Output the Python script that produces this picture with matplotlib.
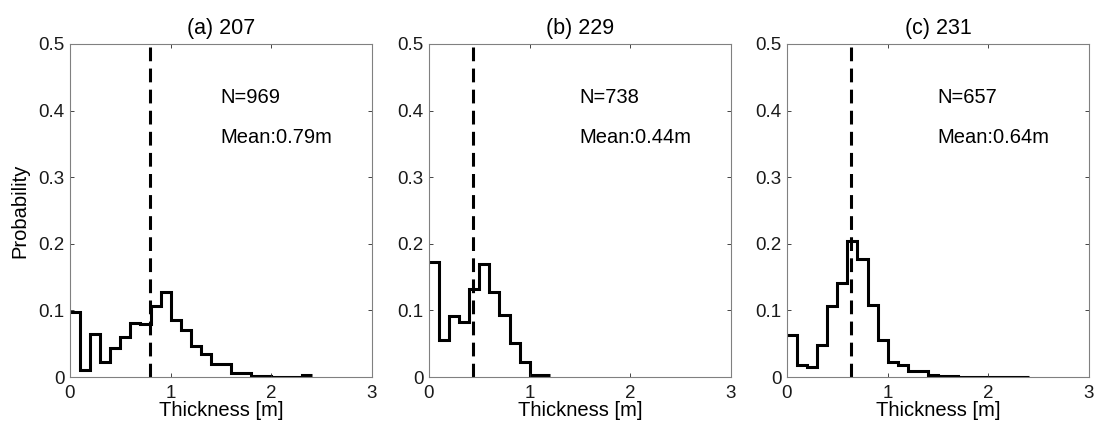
import numpy as np
import matplotlib
matplotlib.use("Agg")
import matplotlib.pyplot as plt

plt.rcParams['font.family'] = ['Liberation Sans', 'DejaVu Sans']

# bin edges: 0.1 m wide
titles = ['(a) 207', '(b) 229', '(c) 231']
counts_n = [969, 738, 657]
means = [0.79, 0.44, 0.64]

prob_a = [0.098, 0.010, 0.065, 0.023, 0.044, 0.060, 0.081, 0.079, 0.106, 0.128,
          0.085, 0.071, 0.047, 0.034, 0.020, 0.019, 0.0065, 0.0065, 0.0015, 0.0015,
          0.0005, 0.0005, 0.0005, 0.003]
prob_b = [0.172, 0.056, 0.092, 0.082, 0.132, 0.170, 0.127, 0.0935, 0.051, 0.022,
          0.0025, 0.0025]
prob_c = [0.0635, 0.0185, 0.015, 0.0485, 0.107, 0.141, 0.2045, 0.1775, 0.1085, 0.056,
          0.022, 0.0185, 0.0095, 0.0095, 0.003, 0.002, 0.0008, 0.0005, 0.0005, 0.0005,
          0.0005, 0.0005, 0.0005, 0.0005]
probs = [prob_a, prob_b, prob_c]

fig = plt.figure(figsize=(11, 4.36), dpi=100)
W, H = 1100, 436
lefts = [70, 429, 787]
axw = 302
top, bottom = 44, 377
grey = '#262626'

for i in range(3):
    ax = fig.add_axes([lefts[i] / W, 1 - bottom / H, axw / W, (bottom - top) / H])
    p = np.array(probs[i])
    edges = np.arange(len(p) + 1) * 0.1
    ax.stairs(p, edges, color='black', linewidth=2.2, baseline=None)
    ax.axvline(means[i], color='black', linestyle=(0, (4.5, 2.4)), linewidth=2.2)
    ax.text(1.49, 0.42, 'N=%d' % counts_n[i], fontsize=14.5, va='center')
    ax.text(1.49, 0.36, 'Mean:%.2fm' % means[i], fontsize=14.5, va='center')
    ax.set_xlim(0, 3)
    ax.set_ylim(0, 0.5)
    ax.set_xticks([0, 1, 2, 3])
    ax.set_yticks([0, 0.1, 0.2, 0.3, 0.4, 0.5])
    ax.set_yticklabels(['0', '0.1', '0.2', '0.3', '0.4', '0.5'])
    ax.tick_params(direction='in', top=True, right=True, labelsize=13.5,
                   colors=grey, labelcolor='#1a1a1a', length=3, width=0.6, pad=4)
    ax.tick_params(axis='x', pad=6)
    for s in ax.spines.values():
        s.set_color('#808080')
        s.set_linewidth(0.8)
    ax.set_title(titles[i], fontsize=15.5, pad=7)
    ax.set_xlabel('Thickness [m]', fontsize=14.5, labelpad=-1)
    if i == 0:
        ax.set_ylabel('Probability', fontsize=14.5, labelpad=6)

fig.savefig('out.png', dpi=100)
